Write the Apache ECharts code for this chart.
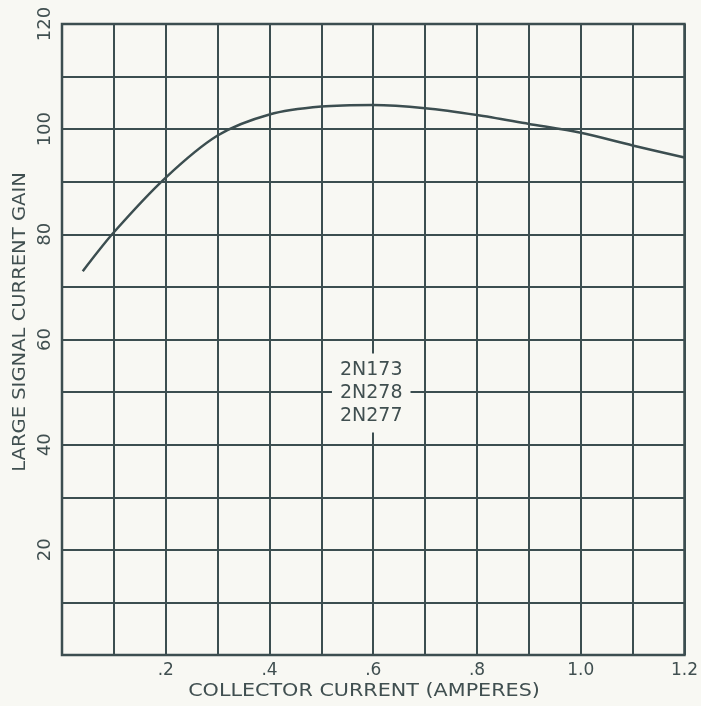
<!DOCTYPE html>
<html>
<head>
<meta charset="utf-8">
<script src="https://cdn.jsdelivr.net/npm/echarts@6/dist/echarts.min.js"></script>
<style>
html,body{margin:0;padding:0;background:#f8f8f3;}
#c{width:701px;height:706px;}
</style>
</head>
<body>
<div id="c"></div>
<script>
// Data
const currentA = [0.04, 0.1, 0.2, 0.3, 0.4, 0.5, 0.6, 0.7, 0.8, 0.9, 1.0, 1.1, 1.2];
const gain     = [73.0, 80.4, 90.8, 98.8, 102.8, 104.3, 104.6, 104.0, 102.7, 101.0, 99.3, 96.9, 94.6];
const xTickLabels = {0.2: '.2', 0.4: '.4', 0.6: '.6', 0.8: '.8', 1.0: '1.0', 1.2: '1.2'};
const yTickLabels = {20: '20', 40: '40', 60: '60', 80: '80', 100: '100', 120: '120'};
const deviceLabel = ['2N173', '2N278', '2N277'];
const deviceAnchor = [0.6, 50];
const xTitle = 'COLLECTOR CURRENT (AMPERES)';
const yTitle = 'LARGE SIGNAL CURRENT GAIN';

const ink = '#3c4e50';
const txt = '#404f50';
const bg = '#f8f8f3';
const font = 'DejaVu Sans';

const chart = echarts.init(document.getElementById('c'));
const option = {
  backgroundColor: bg,
  animation: false,
  grid: {left: 62, right: 15, top: 24, bottom: 51, show: true, borderColor: ink, borderWidth: 2.5, backgroundColor: 'transparent'},
  xAxis: {
    type: 'value', min: 0, max: 1.2, interval: 0.1,
    axisLine: {show: false}, axisTick: {show: false},
    axisLabel: {
      color: txt, fontFamily: font, fontSize: 17, margin: 7,
      formatter: v => xTickLabels[Math.round(v * 10) / 10] || ''
    },
    splitLine: {show: true, lineStyle: {color: ink, width: 2}}
  },
  yAxis: {
    type: 'value', min: 0, max: 120, interval: 10,
    axisLine: {show: false}, axisTick: {show: false},
    axisLabel: {
      color: txt, fontFamily: font, fontSize: 18, margin: 8, rotate: 90,
      formatter: v => yTickLabels[Math.round(v)] || ''
    },
    splitLine: {show: true, lineStyle: {color: ink, width: 2}}
  },
  series: [{
    type: 'line', smooth: 0.3, symbol: 'none',
    data: currentA.map((x, i) => [x, gain[i]]),
    lineStyle: {color: ink, width: 2.5}
  }]
};
chart.setOption(option);

const p = chart.convertToPixel({gridIndex: 0}, deviceAnchor);
chart.setOption({
  graphic: [
    {
      type: 'text', x: p[0] - 2, y: p[1] + 1,
      style: {
        text: deviceLabel.join('\n'),
        fill: txt, font: '19px "DejaVu Sans"', lineHeight: 23,
        align: 'center', verticalAlign: 'middle',
        backgroundColor: bg, padding: [4, 8, 6, 8]
      },
      z: 100
    },
    {
      type: 'text', x: 364, y: 691, scaleX: 1.15,
      style: {text: xTitle, fill: txt, font: '18px "DejaVu Sans"',
              align: 'center', verticalAlign: 'middle'}
    },
    {
      type: 'text', x: 21, y: 322, rotation: Math.PI / 2, scaleX: 1.15,
      style: {text: yTitle, fill: txt, font: '17px "DejaVu Sans"',
              align: 'center', verticalAlign: 'middle'}
    }
  ]
});
</script>
</body>
</html>
